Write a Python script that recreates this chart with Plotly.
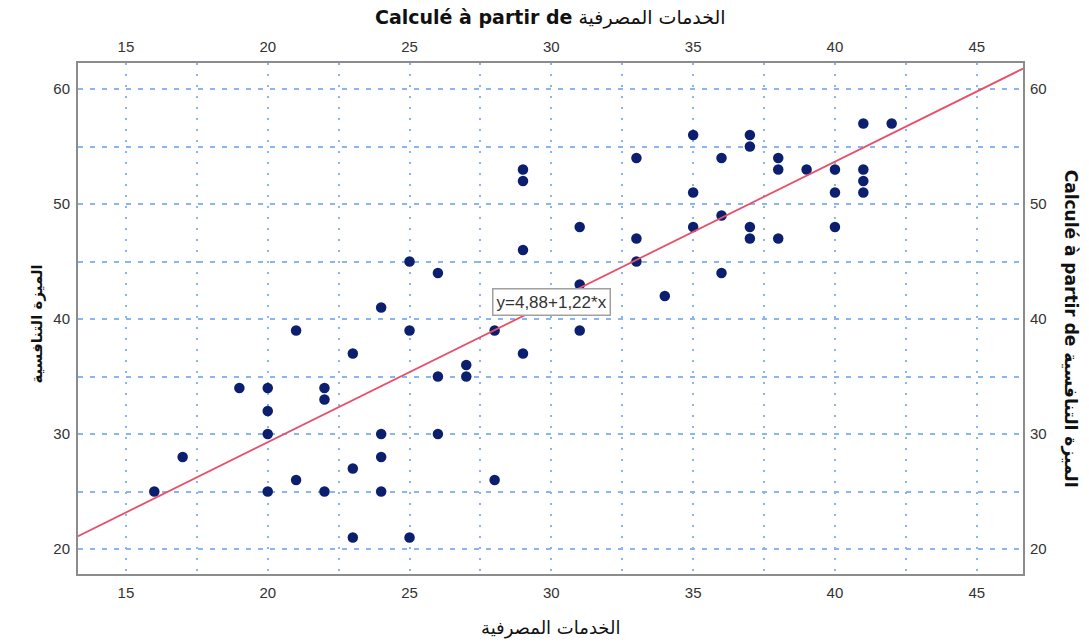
import plotly.graph_objects as go

# ---- data ----
banking_services = [16, 17, 19, 20, 20, 20, 20, 21, 21, 22, 22, 22, 23, 23, 23,
                    24, 24, 24, 24, 25, 25, 25, 26, 26, 26, 27, 27, 28, 28,
                    29, 29, 29, 29, 31, 31, 31, 33, 33, 33, 34, 35, 35, 35,
                    36, 36, 36, 37, 37, 37, 37, 38, 38, 38, 39, 40, 40, 40,
                    41, 41, 41, 41, 42]
competitive_adv = [25, 28, 34, 34, 32, 30, 25, 39, 26, 34, 33, 25, 37, 27, 21,
                   41, 30, 28, 25, 45, 39, 21, 44, 35, 30, 36, 35, 39, 26,
                   53, 52, 46, 37, 48, 43, 39, 54, 47, 45, 42, 56, 51, 48,
                   54, 49, 44, 56, 55, 48, 47, 54, 53, 47, 53, 53, 51, 48,
                   57, 53, 52, 51, 57]
intercept = 4.88
slope = 1.22
equation_label = "y=4,88+1,22*x"

x_title = "الخدمات المصرفية"
y_title = "الميزة التنافسية"
top_title = "<b>Calculé à partir de</b> الخدمات المصرفية"
right_title = "<b>Calculé à partir de الميزة التنافسية</b>"

X_RANGE = [13.31, 46.63]
Y_RANGE = [17.83, 62.26]

GRID = "#8ab6f0"
FRAME = "#8c8c8c"
TICKFONT = dict(family="Liberation Sans, Arial, sans-serif", size=15, color="#333333")
TITLE_FAMILY = "DejaVu Sans, Liberation Sans, sans-serif"

fig = go.Figure()

fig.add_trace(go.Scatter(
    x=banking_services, y=competitive_adv, mode="markers",
    marker=dict(color="#0c1f6e", size=10.5, line=dict(width=0)),
    hoverinfo="skip", showlegend=False))

line_x = list(X_RANGE)
line_y = [intercept + slope * v for v in line_x]
fig.add_trace(go.Scatter(
    x=line_x, y=line_y, mode="lines",
    line=dict(color="#e8506a", width=1.8),
    hoverinfo="skip", showlegend=False))

# empty trace to activate top/right axes
fig.add_trace(go.Scatter(x=[], y=[], xaxis="x2", yaxis="y2", showlegend=False))

grid_common = dict(gridcolor=GRID, gridwidth=1.6)

fig.update_layout(
    width=1089, height=642,
    margin=dict(l=78, r=66, t=63, b=68),
    paper_bgcolor="white", plot_bgcolor="white",
    showlegend=False,
    xaxis=dict(range=X_RANGE, tick0=0, dtick=5, showgrid=True, griddash="2px,9px",
               minor=dict(tick0=0, dtick=2.5, showgrid=True, griddash="2px,9px", **grid_common),
               zeroline=False, showline=True, mirror=True, linecolor=FRAME, linewidth=2,
               ticks="", tickfont=TICKFONT, ticklabelstandoff=4, **grid_common),
    yaxis=dict(range=Y_RANGE, tick0=0, dtick=10, showgrid=True, griddash="5px,7px",
               minor=dict(tick0=0, dtick=5, showgrid=True, griddash="5px,7px", **grid_common),
               zeroline=False, showline=True, mirror=True, linecolor=FRAME, linewidth=2,
               ticks="", tickfont=TICKFONT, ticklabelstandoff=3, **grid_common),
    xaxis2=dict(range=X_RANGE, overlaying="x", side="top", tick0=0, dtick=5,
                showgrid=False, zeroline=False, showline=False, ticks="",
                tickfont=TICKFONT, ticklabelstandoff=7),
    yaxis2=dict(range=Y_RANGE, overlaying="y", side="right", tick0=0, dtick=10,
                showgrid=False, zeroline=False, showline=False, ticks="",
                tickfont=TICKFONT, ticklabelstandoff=6),
    annotations=[
        dict(text=top_title, xref="paper", yref="paper", x=0.4995, y=1.09,
             showarrow=False, font=dict(family=TITLE_FAMILY, size=19, color="#111111"),
             xanchor="center", yanchor="middle"),
        dict(text=x_title, xref="paper", yref="paper", x=0.4995, y=-0.1057,
             showarrow=False, font=dict(family=TITLE_FAMILY, size=18, color="#111111"),
             xanchor="center", yanchor="middle"),
        dict(text="<b>" + y_title + "</b>", xref="paper", yref="paper", x=-0.0434, y=0.49,
             textangle=-90, showarrow=False,
             font=dict(family=TITLE_FAMILY, size=15, color="#111111"),
             xanchor="center", yanchor="middle"),
        dict(text=right_title, xref="paper", yref="paper", x=1.0497, y=0.48,
             textangle=90, showarrow=False,
             font=dict(family=TITLE_FAMILY, size=17, color="#111111"),
             xanchor="center", yanchor="middle"),
        dict(text=equation_label, xref="x", yref="y", x=27.9, y=41.52,
             xanchor="left", yanchor="middle", showarrow=False,
             font=dict(family="Liberation Sans, Arial, sans-serif", size=17, color="#333333"),
             bgcolor="white", bordercolor="#a0a0a0", borderwidth=1.5, borderpad=3),
    ],
)

fig.write_html("out.html", config={"displayModeBar": False},
               post_script="document.body.style.margin='0';document.body.style.overflow='hidden';")
